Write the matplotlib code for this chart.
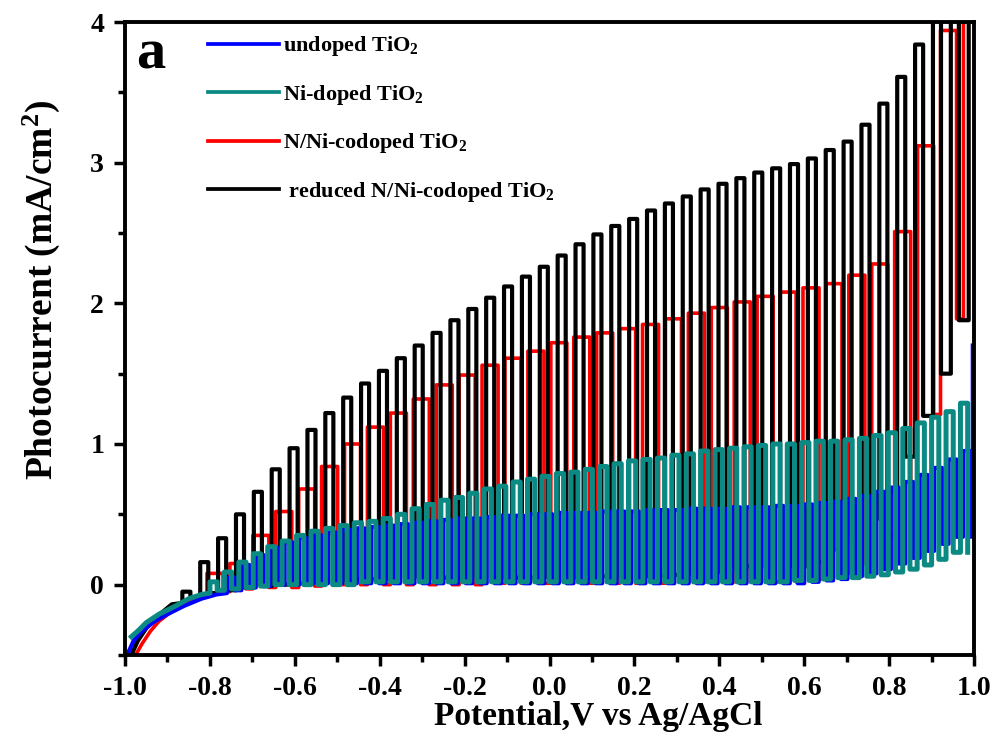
import numpy as np
import matplotlib.pyplot as plt
from matplotlib.ticker import MultipleLocator, FormatStrFormatter
from matplotlib.lines import Line2D

plt.rcParams['font.family'] = ['Liberation Serif', 'DejaVu Serif']
plt.rcParams['font.weight'] = 'bold'
plt.rcParams['mathtext.fontset'] = 'custom'
plt.rcParams['mathtext.rm'] = 'Liberation Serif:bold'
plt.rcParams['mathtext.it'] = 'Liberation Serif:bold'
plt.rcParams['mathtext.bf'] = 'Liberation Serif:bold'
plt.rcParams['axes.unicode_minus'] = False

# --- undoped TiO2 (blue) ---
blue_rise_v = [-0.995, -0.98, -0.96, -0.93, -0.90, -0.86, -0.82, -0.785]
blue_rise_i = [-0.50, -0.40, -0.33, -0.26, -0.21, -0.15, -0.10, -0.07]
blue_v0, blue_period = -0.76, 0.034
blue_light = [0.05, 0.14, 0.21, 0.26, 0.30, 0.33, 0.35, 0.37, 0.39, 0.40,
              0.41, 0.42, 0.43, 0.44, 0.45, 0.46, 0.47, 0.47, 0.48, 0.49,
              0.49, 0.50, 0.50, 0.51, 0.51, 0.51, 0.52, 0.52, 0.52, 0.53,
              0.53, 0.53, 0.54, 0.54, 0.54, 0.55, 0.55, 0.55, 0.56, 0.56,
              0.57, 0.58, 0.59, 0.61, 0.63, 0.66, 0.69, 0.73, 0.78, 0.83,
              0.89, 0.95]
blue_dark = [-0.06, -0.04, -0.02, -0.01, 0.00, 0.00, 0.01, 0.01, 0.01, 0.01,
             0.01, 0.01, 0.01, 0.01, 0.01, 0.01, 0.01, 0.01, 0.01, 0.01,
             0.01, 0.01, 0.01, 0.01, 0.01, 0.01, 0.01, 0.01, 0.01, 0.01,
             0.01, 0.01, 0.01, 0.01, 0.01, 0.01, 0.01, 0.01, 0.01, 0.01,
             0.01, 0.02, 0.03, 0.04, 0.06, 0.08, 0.11, 0.15, 0.19, 0.24,
             0.29, 0.34]
blue_tail_v = [0.997, 0.997]
blue_tail_i = [0.38, 1.70]

# --- Ni-doped TiO2 (teal) ---
teal_rise_v = [-0.985, -0.97, -0.95, -0.92, -0.88, -0.85, -0.82]
teal_rise_i = [-0.37, -0.33, -0.27, -0.21, -0.15, -0.10, -0.07]
teal_v0, teal_period = -0.80, 0.034
teal_light = [0.02, 0.09, 0.16, 0.22, 0.27, 0.31, 0.35, 0.38, 0.40, 0.42,
              0.44, 0.45, 0.47, 0.50, 0.54, 0.57, 0.60, 0.62, 0.65, 0.68,
              0.70, 0.73, 0.75, 0.77, 0.79, 0.80, 0.82, 0.84, 0.86, 0.88,
              0.89, 0.90, 0.92, 0.93, 0.95, 0.96, 0.97, 0.98, 0.99, 1.00,
              1.00, 1.01, 1.02, 1.02, 1.03, 1.04, 1.06, 1.08, 1.11, 1.15,
              1.19, 1.23, 1.29]
teal_dark = [-0.06, -0.04, -0.03, -0.02, -0.01, 0.00, 0.00, 0.00, 0.00, 0.00,
             0.00, 0.02, 0.02, 0.02, 0.02, 0.02, 0.02, 0.02, 0.02, 0.02,
             0.02, 0.02, 0.02, 0.02, 0.02, 0.02, 0.02, 0.02, 0.02, 0.02,
             0.02, 0.02, 0.02, 0.02, 0.02, 0.02, 0.02, 0.02, 0.02, 0.02,
             0.02, 0.03, 0.03, 0.04, 0.05, 0.05, 0.06, 0.07, 0.09, 0.11,
             0.14, 0.18, 0.23]

# --- N/Ni-codoped TiO2 (red) ---
red_rise_v = [-0.975, -0.96, -0.94, -0.92, -0.89, -0.86, -0.835]
red_rise_i = [-0.50, -0.42, -0.33, -0.26, -0.19, -0.13, -0.09]
red_v0, red_period = -0.807, 0.054
red_light = [0.08, 0.15, 0.35, 0.52, 0.68, 0.84, 1.00, 1.12, 1.22, 1.32,
             1.42, 1.49, 1.56, 1.61, 1.66, 1.72, 1.76, 1.79, 1.82, 1.85,
             1.89, 1.93, 1.97, 2.01, 2.05, 2.08, 2.11, 2.14, 2.20, 2.28,
             2.51, 3.12, 3.94, 4.50]
red_dark = [-0.08, -0.05, -0.03, -0.02, -0.02, -0.01, 0.00, 0.00, 0.00, 0.00,
            0.00, 0.00, 0.00, 0.01, 0.01, 0.01, 0.01, 0.01, 0.01, 0.01,
            0.01, 0.02, 0.02, 0.02, 0.02, 0.02, 0.02, 0.04, 0.08, 0.15,
            0.35, 0.65, 1.21, 1.89]

# --- reduced N/Ni-codoped TiO2 (black) ---
black_rise_v = [-0.985, -0.97, -0.95, -0.93, -0.91, -0.89]
black_rise_i = [-0.50, -0.40, -0.31, -0.24, -0.19, -0.14]
black_v0, black_period = -0.865, 0.0421
black_light = [-0.05, 0.16, 0.33, 0.50, 0.66, 0.82, 0.97, 1.10, 1.22, 1.33,
               1.43, 1.52, 1.61, 1.70, 1.79, 1.88, 1.96, 2.04, 2.12, 2.19,
               2.26, 2.34, 2.42, 2.49, 2.55, 2.60, 2.66, 2.71, 2.76, 2.81,
               2.85, 2.89, 2.93, 2.96, 2.99, 3.03, 3.09, 3.15, 3.27, 3.42,
               3.61, 3.84, 4.50, 4.50, 4.50]
black_dark = [-0.13, -0.09, -0.06, -0.04, -0.02, -0.01, 0.00, 0.01, 0.02, 0.03,
              0.04, 0.04, 0.04, 0.05, 0.05, 0.05, 0.05, 0.05, 0.05, 0.05,
              0.05, 0.05, 0.05, 0.05, 0.06, 0.06, 0.06, 0.06, 0.07, 0.08,
              0.09, 0.11, 0.13, 0.13, 0.13, 0.13, 0.16, 0.25, 0.34, 0.47,
              0.66, 0.91, 1.20, 1.50, 1.88]


def chopped(rise_v, rise_i, v0, period, duty, light, dark, tail_v=(), tail_i=()):
    """Dark rise followed by light-on / light-off steps."""
    xs, ys = list(rise_v), list(rise_i)
    n = len(light)
    for k in range(n):
        v = v0 + k * period
        nxt = dark[k + 1] if k + 1 < n else dark[k]
        xs += [v, v, v + duty * period, v + duty * period]
        ys += [dark[k], light[k], light[k], nxt]
        if k + 1 < n:
            xs.append(v0 + (k + 1) * period)
            ys.append(nxt)
    xs += list(tail_v)
    ys += list(tail_i)
    return np.array(xs), np.array(ys)


fig = plt.figure(figsize=(9.98, 7.47), dpi=100)
ax = fig.add_axes([0.1253, 0.1232, 0.8507, 0.8473])

series = [
    ('red', chopped(red_rise_v, red_rise_i, red_v0, red_period, 0.7, red_light, red_dark), 2.6),
    ('black', chopped(black_rise_v, black_rise_i, black_v0, black_period, 0.45, black_light, black_dark), 3.0),
    ('#0000ff', chopped(blue_rise_v, blue_rise_i, blue_v0, blue_period, 0.55, blue_light, blue_dark,
                        blue_tail_v, blue_tail_i), 3.0),
    ('#0b8a84', chopped(teal_rise_v, teal_rise_i, teal_v0, teal_period, 0.5, teal_light, teal_dark), 3.6),
]
for color, (x, y), lw in series:
    ax.plot(x, y, color=color, lw=lw, solid_joinstyle='round')

ax.set_xlim(-1.0, 1.0)
ax.set_ylim(-0.5, 4.0)
ax.xaxis.set_major_locator(MultipleLocator(0.2))
ax.xaxis.set_minor_locator(MultipleLocator(0.1))
ax.xaxis.set_major_formatter(FormatStrFormatter('%.1f'))
ax.yaxis.set_major_locator(MultipleLocator(1))
ax.yaxis.set_minor_locator(MultipleLocator(0.5))
ax.tick_params(which='major', direction='out', length=8, width=2.5, labelsize=20, pad=7)
ax.tick_params(which='minor', direction='out', length=5, width=2.5)
for s in ax.spines.values():
    s.set_linewidth(2.8)

ax.set_xlabel('Potential,V vs Ag/AgCl', fontsize=24, fontweight='bold')
ax.set_ylabel('Photocurrent (mA/cm$^2$)', fontsize=27, fontweight='bold')
ax.xaxis.set_label_coords(0.557, -0.072)
ax.yaxis.set_label_coords(-0.074, 0.577)

ax.text(0.013, 0.99, 'a', transform=ax.transAxes, fontsize=42, fontweight='bold', va='top')

handles = [Line2D([], [], color='#0000ff', lw=2.7),
           Line2D([], [], color='#0b8a84', lw=2.7),
           Line2D([], [], color='red', lw=2.7),
           Line2D([], [], color='black', lw=2.7)]
labels = ['undoped TiO$_2$', 'Ni-doped TiO$_2$', 'N/Ni-codoped TiO$_2$',
          ' reduced N/Ni-codoped TiO$_2$']
ax.legend(handles, labels, loc='upper left', bbox_to_anchor=(0.074, 1.012), frameon=False,
          fontsize=16, handlelength=3.2, handletextpad=0.2, labelspacing=1.1)

fig.savefig('out.png', dpi=100)
